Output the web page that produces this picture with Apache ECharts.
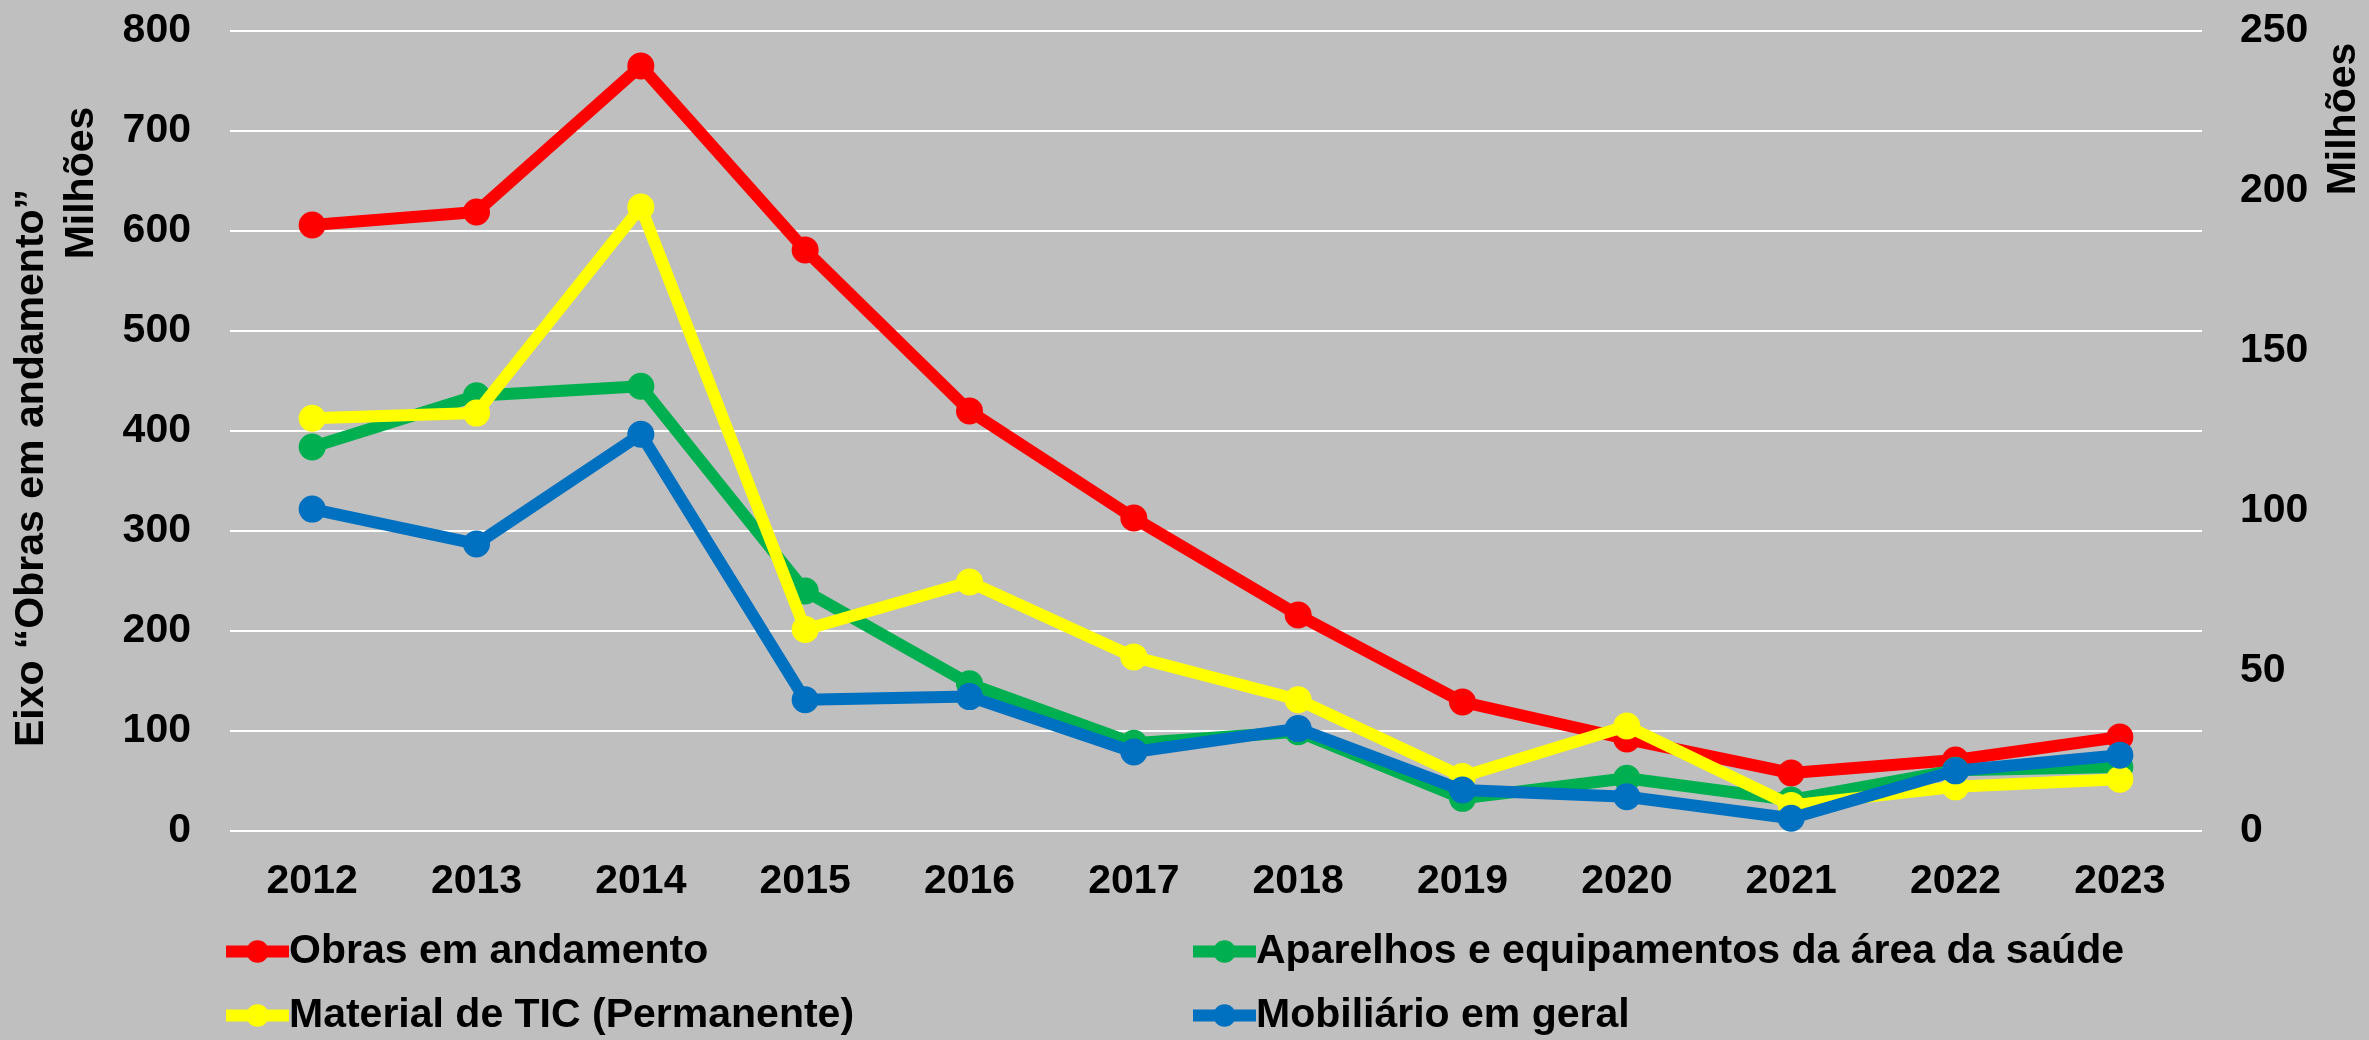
<!DOCTYPE html>
<html>
<head>
<meta charset="utf-8">
<script src="https://cdn.jsdelivr.net/npm/echarts@6/dist/echarts.min.js"></script>
<style>
  html, body { margin: 0; padding: 0; background: #bfbfbf; }
  #chart { width: 2369px; height: 1040px; }
</style>
</head>
<body>
<div id="chart"></div>
<script>
const years = ['2012', '2013', '2014', '2015', '2016', '2017', '2018', '2019', '2020', '2021', '2022', '2023'];

// eixo esquerdo (milhões)
const obras = [606, 619, 765, 581, 420, 313, 216, 129, 92, 58, 71, 94];
// eixo direito (milhões)
const aparelhos = [120, 136, 139, 75, 46, 27.4, 31, 10.2, 16.5, 9.7, 19, 20];
const materialTic = [129, 130.6, 195, 63, 77.8, 54.4, 41, 17, 32.8, 8, 13.8, 16.2];
const mobiliario = [100.6, 89.7, 124, 41, 42, 24.7, 32, 12.8, 10.7, 4, 18.8, 23.7];

const names = ['Obras em andamento', 'Aparelhos e equipamentos da área da saúde',
  'Material de TIC (Permanente)', 'Mobiliário em geral'];
const colors = ['#ff0000', '#00b050', '#ffff00', '#0070c0'];

const FONT = 'Liberation Sans, Arial, sans-serif';
const FS = 41;

const chart = echarts.init(document.getElementById('chart'));

function makeSeries(i, data, axis) {
  return {
    name: names[i],
    type: 'line',
    yAxisIndex: axis,
    data: data,
    symbol: 'circle',
    symbolSize: 27,
    itemStyle: { color: colors[i] },
    lineStyle: { color: colors[i], width: 12 },
    emphasis: { disabled: true },
    z: 2 + i
  };
}

function legendAt(name, left, top) {
  return {
    data: [name],
    left: left,
    top: top,
    itemWidth: 63,
    itemHeight: 28,
    itemGap: 0,
    padding: 0,
    lineStyle: { width: 12 },
    textStyle: { fontFamily: FONT, fontSize: FS, fontWeight: 'bold', color: '#000', padding: [0, 0, 0, -5] }
  };
}

const option = {
  backgroundColor: '#bfbfbf',
  animation: false,
  grid: { left: 230, right: 167, top: 31, bottom: 209 },
  legend: [
    legendAt(names[0], 220, 931),
    legendAt(names[1], 1187, 931),
    legendAt(names[2], 220, 995),
    legendAt(names[3], 1187, 995)
  ],
  xAxis: {
    type: 'category',
    data: years,
    axisLine: { show: false },
    axisTick: { show: false },
    axisLabel: { fontFamily: FONT, fontSize: FS, fontWeight: 'bold', color: '#000', margin: 30 }
  },
  yAxis: [
    {
      type: 'value',
      min: 0, max: 800, interval: 100,
      axisLine: { show: false },
      axisTick: { show: false },
      splitLine: { lineStyle: { color: '#ffffff', width: 2 } },
      axisLabel: { fontFamily: FONT, fontSize: FS, fontWeight: 'bold', color: '#000', margin: 39 }
    },
    {
      type: 'value',
      min: 0, max: 250, interval: 50,
      position: 'right',
      axisLine: { show: false },
      axisTick: { show: false },
      splitLine: { show: false },
      axisLabel: { fontFamily: FONT, fontSize: FS, fontWeight: 'bold', color: '#000', margin: 38 }
    }
  ],
  graphic: [
    {
      type: 'text', x: 32, y: 468, rotation: Math.PI / 2,
      style: { text: 'Eixo “Obras em andamento”', font: 'bold ' + FS + 'px ' + FONT, fill: '#000', align: 'center', verticalAlign: 'middle' }
    },
    {
      type: 'text', x: 82, y: 183, rotation: Math.PI / 2,
      style: { text: 'Milhões', font: 'bold ' + FS + 'px ' + FONT, fill: '#000', align: 'center', verticalAlign: 'middle' }
    },
    {
      type: 'text', x: 2344, y: 119, rotation: Math.PI / 2,
      style: { text: 'Milhões', font: 'bold ' + FS + 'px ' + FONT, fill: '#000', align: 'center', verticalAlign: 'middle' }
    }
  ],
  series: [
    makeSeries(0, obras, 0),
    makeSeries(1, aparelhos, 1),
    makeSeries(2, materialTic, 1),
    makeSeries(3, mobiliario, 1)
  ]
};

chart.setOption(option);
</script>
</body>
</html>
